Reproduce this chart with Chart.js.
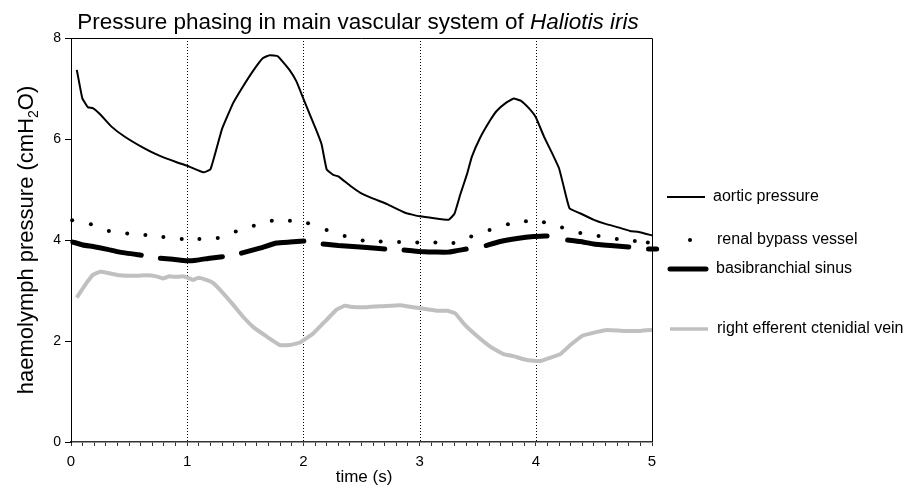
<!DOCTYPE html>
<html>
<head>
<meta charset="utf-8">
<script src="https://cdn.jsdelivr.net/npm/chart.js@4.4.0/dist/chart.umd.min.js"></script>
<style>
  html, body { margin: 0; padding: 0; background: #fff; }
  #wrap { width: 904px; height: 487px; }
</style>
</head>
<body>
<div id="wrap"><canvas id="myChart" width="904" height="487"></canvas></div>
<script>
// values: time in s, pressure in cmH2O
const aorticTime = [0.05, 0.097, 0.145, 0.188, 0.246, 0.346, 0.46, 0.62, 0.76, 0.91, 1.0, 1.14, 1.2, 1.25, 1.30, 1.395, 1.48, 1.567, 1.65, 1.71, 1.78, 1.88, 1.94, 2.01, 2.11, 2.157, 2.2, 2.257, 2.30, 2.40, 2.487, 2.59, 2.72, 2.875, 3.0, 3.25, 3.30, 3.35, 3.41, 3.45, 3.52, 3.61, 3.665, 3.74, 3.81, 3.87, 3.94, 4.0, 4.07, 4.14, 4.20, 4.24, 4.29, 4.38, 4.50, 4.60, 4.71, 4.81, 4.886, 5.0];
const aorticPressure = [7.37, 6.81, 6.63, 6.61, 6.50, 6.25, 6.05, 5.83, 5.67, 5.54, 5.47, 5.34, 5.40, 5.79, 6.20, 6.71, 7.04, 7.35, 7.60, 7.66, 7.64, 7.37, 7.14, 6.74, 6.18, 5.89, 5.40, 5.29, 5.26, 5.08, 4.94, 4.83, 4.71, 4.54, 4.47, 4.40, 4.52, 4.90, 5.32, 5.65, 6.02, 6.38, 6.56, 6.71, 6.80, 6.76, 6.61, 6.43, 6.05, 5.72, 5.42, 5.06, 4.63, 4.53, 4.40, 4.32, 4.25, 4.18, 4.16, 4.09];

const renalTime = [-0.036, 0.01, 0.171, 0.326, 0.484, 0.64, 0.795, 0.953, 1.105, 1.263, 1.418, 1.573, 1.728, 1.884, 2.04, 2.2, 2.355, 2.51, 2.665, 2.823, 2.98, 3.136, 3.291, 3.444, 3.602, 3.76, 3.915, 4.07, 4.226, 4.383, 4.54, 4.697, 4.852, 4.964];
const renalPressure = [4.38, 4.39, 4.31, 4.18, 4.13, 4.10, 4.06, 4.02, 4.02, 4.04, 4.17, 4.28, 4.38, 4.38, 4.33, 4.20, 4.08, 3.99, 3.97, 3.96, 3.95, 3.95, 3.94, 4.07, 4.20, 4.31, 4.37, 4.35, 4.25, 4.14, 4.08, 4.02, 3.98, 3.95];

// null = break in the recorded trace
const sinusTime = [0.016, 0.102, 0.188, 0.303, 0.418, 0.605, 0.69, 0.769, 0.878, 0.993, 1.079, 1.194, 1.303, 1.38, 1.467, 1.625, 1.769, 1.884, 2.004, 2.09, 2.17, 2.30, 2.487, 2.60, 2.70, 2.78, 2.866, 3.004, 3.148, 3.248, 3.321, 3.401, 3.49, 3.573, 3.694, 3.838, 3.981, 4.097, 4.19, 4.274, 4.384, 4.498, 4.642, 4.80, 4.88, 4.97, 5.04];
const sinusPressure = [3.96, 3.90, 3.87, 3.82, 3.76, 3.70, null, 3.64, 3.62, 3.59, 3.60, 3.64, 3.67, null, 3.74, 3.84, 3.94, 3.96, 3.98, null, 3.92, 3.89, 3.86, 3.84, 3.82, null, 3.80, 3.77, 3.76, 3.76, 3.79, 3.82, null, 3.89, 3.97, 4.03, 4.07, 4.08, null, 4.00, 3.97, 3.92, 3.89, 3.86, null, 3.82, 3.82];

const veinTime = [0.05, 0.131, 0.188, 0.252, 0.332, 0.418, 0.533, 0.648, 0.735, 0.79, 0.848, 0.905, 0.963, 1.006, 1.049, 1.093, 1.15, 1.222, 1.308, 1.395, 1.481, 1.567, 1.683, 1.797, 1.884, 1.97, 2.084, 2.2, 2.286, 2.358, 2.401, 2.545, 2.688, 2.832, 2.918, 3.004, 3.148, 3.235, 3.306, 3.378, 3.464, 3.608, 3.723, 3.809, 3.895, 3.981, 4.053, 4.125, 4.211, 4.297, 4.398, 4.527, 4.614, 4.757, 4.901, 5.0];
const veinPressure = [2.86, 3.14, 3.31, 3.37, 3.34, 3.30, 3.29, 3.30, 3.28, 3.24, 3.28, 3.27, 3.28, 3.25, 3.21, 3.25, 3.22, 3.15, 2.95, 2.72, 2.48, 2.28, 2.09, 1.92, 1.92, 1.97, 2.15, 2.42, 2.62, 2.70, 2.68, 2.67, 2.69, 2.71, 2.68, 2.65, 2.60, 2.60, 2.55, 2.35, 2.16, 1.89, 1.74, 1.70, 1.64, 1.61, 1.61, 1.67, 1.74, 1.92, 2.10, 2.18, 2.22, 2.20, 2.20, 2.22];

const seriesNames = ['aortic pressure', 'renal bypass vessel', 'basibranchial sinus', 'right efferent ctenidial vein'];
const dottedTimes = [1, 2, 3, 4];

const FONT = '"Liberation Sans", Arial, sans-serif';

const toPoints = (xs, ys) => xs.map((x, i) => ({ x: x, y: ys[i] }));

// titles, box, dotted second marks and the legend on the right
const decorPlugin = {
    id: 'decor',
    beforeDatasetsDraw(chart) {
        const { ctx, chartArea, scales } = chart;
        ctx.save();
        ctx.strokeStyle = '#000';
        ctx.lineWidth = 1;
        ctx.setLineDash([1, 2]);
        dottedTimes.forEach(t => {
            const px = Math.round(scales.x.getPixelForValue(t)) + 0.5;
            ctx.beginPath();
            ctx.moveTo(px, chartArea.top);
            ctx.lineTo(px, chartArea.bottom);
            ctx.stroke();
        });
        ctx.setLineDash([]);
        ctx.beginPath();
        ctx.moveTo(Math.round(chartArea.left), Math.round(chartArea.top) + 0.5);
        ctx.lineTo(Math.round(chartArea.right) + 0.5, Math.round(chartArea.top) + 0.5);
        ctx.lineTo(Math.round(chartArea.right) + 0.5, chartArea.bottom);
        ctx.stroke();
        ctx.restore();
    },
    afterDraw(chart) {
        const { ctx } = chart;
        ctx.save();
        ctx.fillStyle = '#000';

        // title, with the species name in italics
        const part1 = 'Pressure phasing in main vascular system of ';
        const part2 = 'Haliotis iris';
        ctx.font = '22.5px ' + FONT;
        const w1 = ctx.measureText(part1).width;
        ctx.font = 'italic 22.5px ' + FONT;
        const w2 = ctx.measureText(part2).width;
        let tx = 358 - (w1 + w2) / 2;
        ctx.textBaseline = 'alphabetic';
        ctx.textAlign = 'left';
        ctx.font = '22.5px ' + FONT;
        ctx.fillText(part1, tx, 29);
        ctx.font = 'italic 22.5px ' + FONT;
        ctx.fillText(part2, tx + w1, 29);

        // x axis title
        ctx.font = '17px ' + FONT;
        ctx.textAlign = 'center';
        ctx.textBaseline = 'middle';
        ctx.fillText('time (s)', 364, 477);

        // y axis title with subscript
        ctx.save();
        ctx.translate(33, 240);
        ctx.rotate(-Math.PI / 2);
        ctx.textAlign = 'left';
        ctx.textBaseline = 'alphabetic';
        const a = 'haemolymph pressure (cmH';
        const b = '2';
        const c = 'O)';
        ctx.font = '22px ' + FONT;
        const wa = ctx.measureText(a).width;
        const wc = ctx.measureText(c).width;
        ctx.font = '14px ' + FONT;
        const wb = ctx.measureText(b).width;
        let sx = -(wa + wb + wc) / 2;
        ctx.font = '22px ' + FONT;
        ctx.fillText(a, sx, 0);
        ctx.font = '14px ' + FONT;
        ctx.fillText(b, sx + wa, 5);
        ctx.font = '22px ' + FONT;
        ctx.fillText(c, sx + wa + wb, 0);
        ctx.restore();

        // legend
        ctx.font = '16px ' + FONT;
        ctx.textAlign = 'left';
        ctx.textBaseline = 'middle';
        ctx.lineCap = 'butt';

        ctx.strokeStyle = '#000';
        ctx.lineWidth = 2;
        ctx.beginPath(); ctx.moveTo(667, 197); ctx.lineTo(705, 197); ctx.stroke();
        ctx.fillText(seriesNames[0], 713, 197);

        ctx.beginPath(); ctx.arc(690, 240, 2, 0, Math.PI * 2); ctx.fill();
        ctx.fillText(seriesNames[1], 717, 240);

        ctx.lineWidth = 5;
        ctx.lineCap = 'round';
        ctx.beginPath(); ctx.moveTo(670, 269); ctx.lineTo(706, 269); ctx.stroke();
        ctx.fillText(seriesNames[2], 716, 269);

        ctx.strokeStyle = '#c0c0c0';
        ctx.lineWidth = 3.5;
        ctx.lineCap = 'butt';
        ctx.beginPath(); ctx.moveTo(670, 329); ctx.lineTo(708, 329); ctx.stroke();
        ctx.fillText(seriesNames[3], 717, 329);

        ctx.restore();
    }
};

const chartCanvas = document.getElementById('myChart');

const myChart = new Chart(chartCanvas, {
    type: 'line',
    data: {
        datasets: [
            {
                label: seriesNames[3],
                data: toPoints(veinTime, veinPressure),
                borderColor: '#c0c0c0',
                borderWidth: 4,
                pointRadius: 0,
                tension: 0.1
            },
            {
                label: seriesNames[2],
                data: toPoints(sinusTime, sinusPressure),
                borderColor: '#000',
                borderWidth: 5,
                borderCapStyle: 'round',
                pointRadius: 0,
                spanGaps: false,
                tension: 0.1,
                clip: false
            },
            {
                label: seriesNames[1],
                data: toPoints(renalTime, renalPressure),
                showLine: false,
                pointRadius: 2,
                pointBorderWidth: 0,
                pointBackgroundColor: '#000',
                clip: false
            },
            {
                label: seriesNames[0],
                data: toPoints(aorticTime, aorticPressure),
                borderColor: '#000',
                borderWidth: 2,
                pointRadius: 0,
                tension: 0.1
            }
        ]
    },
    options: {
        responsive: false,
        animation: false,
        devicePixelRatio: 1,
        layout: { padding: { top: 38, right: 252, left: 0, bottom: 0 } },
        plugins: {
            legend: { display: false },
            tooltip: { enabled: false },
            title: { display: false }
        },
        scales: {
            x: {
                type: 'linear',
                min: 0,
                max: 5,
                afterFit: (scale) => { scale.height = 45; },
                border: { display: true, color: '#333', width: 1.5 },
                grid: {
                    drawOnChartArea: false,
                    drawTicks: true,
                    tickLength: 4,
                    tickColor: '#333',
                    tickWidth: 1
                },
                ticks: {
                    stepSize: 0.1,
                    autoSkip: false,
                    maxRotation: 0,
                    padding: 7,
                    color: '#000',
                    font: { family: FONT, size: 15 },
                    callback: (v) => Math.abs(v - Math.round(v)) < 1e-6 ? String(Math.round(v)) : ''
                }
            },
            y: {
                min: 0,
                max: 8,
                afterFit: (scale) => { scale.width = 71; },
                border: { display: true, color: '#000', width: 1 },
                grid: {
                    drawOnChartArea: false,
                    drawTicks: true,
                    tickLength: 6,
                    tickColor: '#000'
                },
                ticks: {
                    stepSize: 2,
                    padding: 4,
                    color: '#000',
                    font: { family: FONT, size: 14 }
                }
            }
        }
    },
    plugins: [decorPlugin]
});
</script>
</body>
</html>
